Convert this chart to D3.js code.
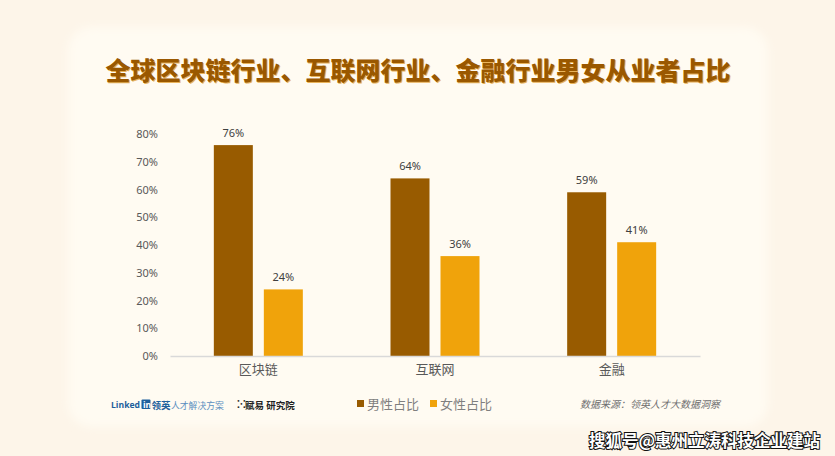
<!DOCTYPE html>
<html>
<head>
<meta charset="utf-8">
<script src="https://cdn.jsdelivr.net/npm/d3@7"></script>
<style>
  body { margin: 0; background: #fdf5e9; }
  svg { display: block; font-family: "Noto Sans CJK SC", "Noto Sans", sans-serif; }
</style>
</head>
<body>
<svg id="chart" width="835" height="456"></svg>
<script>
// data
var categories = ['区块链', '互联网', '金融'];
var seriesNames = ['男性占比', '女性占比'];
var maleValues = [0.76, 0.64, 0.59];
var femaleValues = [0.24, 0.36, 0.41];
var yTicks = [0, 0.1, 0.2, 0.3, 0.4, 0.5, 0.6, 0.7, 0.8];

var colors = ['#985b00', '#f0a30b'];

var svg = d3.select('#chart');

// soft panel behind the chart
var defs = svg.append('defs');
defs.append('filter')
  .attr('id', 'soft')
  .attr('x', '-10%').attr('y', '-10%').attr('width', '120%').attr('height', '120%')
  .append('feGaussianBlur')
  .attr('stdDeviation', 4);

svg.append('rect')
  .attr('width', 835).attr('height', 456)
  .attr('fill', '#fdf5e9');
svg.append('rect')
  .attr('x', 68).attr('y', 27)
  .attr('width', 700).attr('height', 400)
  .attr('rx', 24)
  .attr('fill', '#fffbf2')
  .attr('filter', 'url(#soft)');

// title
svg.append('text')
  .attr('x', 418).attr('y', 80)
  .attr('text-anchor', 'middle')
  .attr('font-size', 25)
  .attr('font-weight', 900)
  .style('fill', '#9a5800')
  .style('text-shadow', '1px 1px 0 #e9b45c')
  .text('全球区块链行业、互联网行业、金融行业男女从业者占比');

var y = d3.scaleLinear()
  .domain([0, 0.8])
  .range([356, 134]);

var x0 = d3.scaleBand()
  .domain(categories)
  .range([170, 700]);

var x1 = d3.scaleBand()
  .domain(seriesNames)
  .range([0, 89])
  .paddingInner(0.22);

var groupOffset = (x0.bandwidth() - 89) / 2;

// y axis labels only
var yAxis = d3.axisLeft(y)
  .tickValues(yTicks)
  .tickFormat(d3.format('.0%'))
  .tickSize(0)
  .tickPadding(0);

var gy = svg.append('g')
  .attr('transform', 'translate(158,0)')
  .call(yAxis);
gy.select('.domain').remove();
gy.selectAll('text')
  .attr('font-size', 11)
  .attr('font-family', '"Noto Sans", sans-serif')
  .style('fill', '#595959');

// bars
var rows = categories.map(function(c, i) {
  return [
    { cat: c, name: seriesNames[0], value: maleValues[i], color: colors[0] },
    { cat: c, name: seriesNames[1], value: femaleValues[i], color: colors[1] }
  ];
});

var groups = svg.selectAll('.grp')
  .data(rows)
  .enter()
  .append('g')
  .attr('class', 'grp')
  .attr('transform', function(d) {
    return 'translate(' + (x0(d[0].cat) + groupOffset) + ',0)';
  });

groups.selectAll('rect')
  .data(function(d) { return d; })
  .enter()
  .append('rect')
  .attr('x', function(d) { return x1(d.name); })
  .attr('y', function(d) { return y(d.value); })
  .attr('width', x1.bandwidth())
  .attr('height', function(d) { return y(0) - y(d.value); })
  .style('fill', function(d) { return d.color; });

groups.selectAll('text')
  .data(function(d) { return d; })
  .enter()
  .append('text')
  .attr('x', function(d) { return x1(d.name) + x1.bandwidth() / 2; })
  .attr('y', function(d) { return y(d.value) - 8; })
  .attr('text-anchor', 'middle')
  .attr('font-size', 11)
  .attr('font-family', '"Noto Sans", sans-serif')
  .style('fill', '#404040')
  .text(function(d) { return Math.round(d.value * 100) + '%'; });

// x axis
var xAxis = d3.axisBottom(x0).tickSize(0).tickPadding(9);
var gx = svg.append('g')
  .attr('transform', 'translate(0,' + y(0) + ')')
  .call(xAxis);
gx.select('.domain')
  .style('stroke', '#d9d9d9')
  .style('stroke-width', 1.3);
gx.selectAll('text')
  .attr('font-size', 13)
  .attr('font-family', '"Noto Sans CJK SC", sans-serif')
  .style('fill', '#595959');

// legend
var legend = svg.append('g')
  .attr('transform', 'translate(357,404)');
var items = legend.selectAll('g')
  .data(seriesNames)
  .enter()
  .append('g')
  .attr('transform', function(d, i) { return 'translate(' + (i * 73) + ',0)'; });
items.append('rect')
  .attr('x', 0).attr('y', -4)
  .attr('width', 7).attr('height', 7)
  .style('fill', function(d, i) { return colors[i]; });
items.append('text')
  .attr('x', 10).attr('y', 5)
  .attr('font-size', 13)
  .style('fill', '#7f7f7f')
  .text(function(d) { return d; });

// footer logos
var logo = svg.append('g').attr('transform', 'translate(110,408)');
var inBox = logo.append('rect')
  .attr('y', -8.5).attr('width', 9).attr('height', 9.5)
  .attr('rx', 1)
  .style('fill', '#1d5f9c');
var linkedIn = logo.append('text')
  .attr('x', 1).attr('y', 0)
  .attr('font-size', 8.6)
  .attr('font-weight', 'bold')
  .attr('font-family', '"Open Sans", sans-serif');
var linkedPart = linkedIn.append('tspan')
  .style('fill', '#1d5f9c')
  .text('Linked');
linkedIn.append('tspan')
  .attr('dx', 3)
  .style('fill', '#ffffff')
  .text('in');
var linkedW = linkedPart.node().getComputedTextLength();
inBox.attr('x', 1 + linkedW + 1.5);
logo.append('text')
  .attr('x', 1 + linkedW + 11.5).attr('y', 0.5)
  .attr('font-size', 9.5)
  .attr('font-weight', 'bold')
  .style('fill', '#1d5f9c')
  .text('领英');
logo.append('text')
  .attr('x', 61).attr('y', 0.5)
  .attr('font-size', 8.8)
  .style('fill', '#5b8fc0')
  .text('人才解决方案');

var logo2 = svg.append('g').attr('transform', 'translate(237,408)');
logo2.append('text')
  .attr('x', 0).attr('y', 0)
  .attr('font-size', 10)
  .attr('font-weight', 'bold')
  .style('fill', '#222')
  .text('⁙');
logo2.append('text')
  .attr('x', 8).attr('y', 0.5)
  .attr('font-size', 9.5)
  .attr('font-weight', 'bold')
  .style('fill', '#222')
  .text('赋易 研究院');

// source
svg.append('text')
  .attr('x', 580).attr('y', 408)
  .attr('font-size', 10)
  .attr('font-style', 'italic')
  .style('fill', '#6f6f6f')
  .text('数据来源：领英人才大数据洞察');

// watermark
svg.append('text')
  .attr('x', 820).attr('y', 447)
  .attr('text-anchor', 'end')
  .attr('font-size', 16.5)
  .attr('font-weight', 'bold')
  .style('fill', '#ffffff')
  .style('stroke', '#111')
  .style('stroke-width', 2)
  .style('paint-order', 'stroke')
  .text('搜狐号@惠州立涛科技企业建站');
</script>
</body>
</html>
